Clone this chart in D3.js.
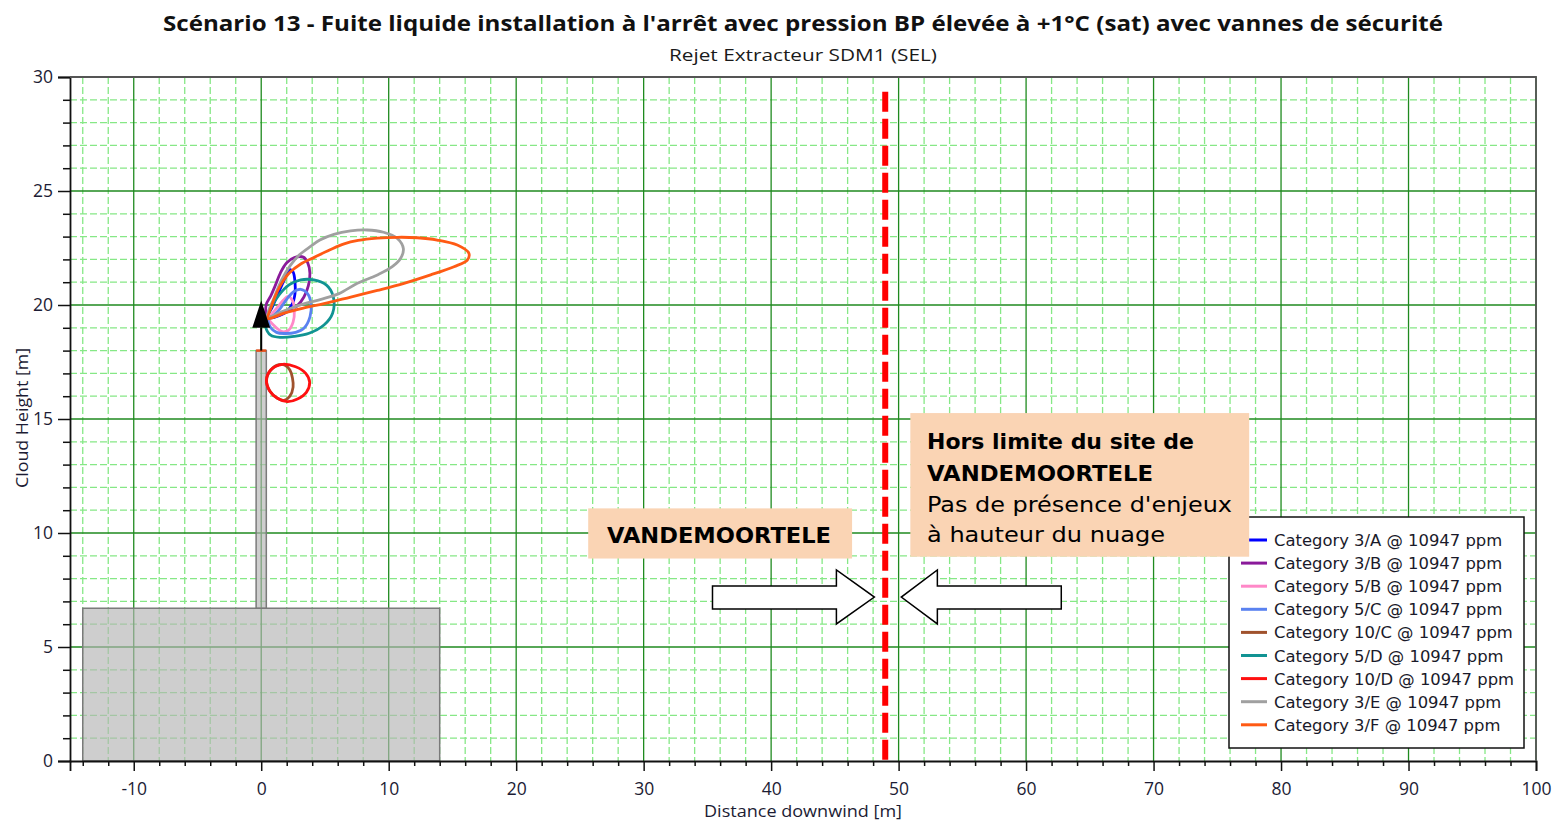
<!DOCTYPE html>
<html><head><meta charset="utf-8">
<script src="https://cdn.jsdelivr.net/npm/d3@7"></script>
<style>body{margin:0;background:#fff}svg{display:block}</style>
</head><body>
<svg id="chart" width="1553" height="823"></svg>
<script>
// ---------- DATA ----------
const seriesNames = [
  "Category 3/A @ 10947 ppm", "Category 3/B @ 10947 ppm", "Category 5/B @ 10947 ppm",
  "Category 5/C @ 10947 ppm", "Category 10/C @ 10947 ppm", "Category 5/D @ 10947 ppm",
  "Category 10/D @ 10947 ppm", "Category 3/E @ 10947 ppm", "Category 3/F @ 10947 ppm"
];
const seriesColors = ["#0000ff", "#8a1a9a", "#ff88c8", "#5a82f0", "#a0522d", "#119393", "#ff1010", "#a0a0a0", "#ff5a14"];

// contour outlines [distance downwind (m), cloud height (m)]
const cat3A = [[0.5,19.45],[0.9,19.95],[1.4,20.6],[1.85,21.15],[2.25,21.55],[2.5,21.45],[2.65,21.0],[2.65,20.5],[2.4,20.0],[1.7,19.6]];
const cat3B = [[0.5,19.45],[0.38,20.0],[0.75,20.4],[1.1,20.85],[1.5,21.4],[2.0,21.85],[2.6,22.08],[3.3,22.1],[3.65,21.85],[3.82,21.4],[3.7,20.85],[3.35,20.35],[2.8,19.95],[1.6,19.6]];
const cat5B = [[0.55,19.45],[1.0,19.1],[1.65,18.83],[2.15,18.9],[2.5,19.25],[2.6,19.75],[2.45,20.2],[2.1,20.38],[1.75,20.22],[1.35,19.95],[0.9,19.65]];
const cat5C = [[0.55,19.4],[0.75,19.0],[1.2,18.8],[1.8,18.75],[2.7,18.8],[3.35,18.98],[3.83,19.49],[3.9,20.07],[3.62,20.51],[3.1,20.69],[2.57,20.59],[2.05,20.29],[1.5,19.85],[0.9,19.5]];
const cat10C = [[0.42,16.7],[0.75,17.15],[1.4,17.38],[1.9,17.35],[2.25,17.15],[2.45,16.8],[2.5,16.4],[2.25,16.0],[1.8,15.82],[1.27,15.91],[0.67,16.23]];
const cat5D = [[0.45,19.45],[0.35,19.05],[0.74,18.68],[1.53,18.58],[2.57,18.62],[3.75,18.76],[4.92,19.12],[5.6,19.64],[5.65,20.37],[5.1,20.88],[4.14,21.1],[3.1,21.1],[2.18,20.88],[1.4,20.44],[0.74,19.85]];
const cat10D = [[0.41,16.71],[0.74,17.15],[1.66,17.4],[2.7,17.29],[3.49,17.0],[3.8,16.61],[3.54,16.17],[2.84,15.88],[2.05,15.76],[1.27,15.91],[0.67,16.23]];
const cat3E = [[0.5,19.5],[1.0,20.3],[1.6,21.1],[2.3,21.75],[3.0,22.2],[3.9,22.58],[4.6,22.85],[5.7,23.1],[7.0,23.25],[8.3,23.29],[9.6,23.19],[10.68,22.92],[11.15,22.48],[10.94,22.05],[10.28,21.68],[9.11,21.32],[7.54,20.95],[6.1,20.5],[4.7,20.25],[3.2,20.03],[1.8,19.75]];
const cat3F = [[0.5,19.4],[0.75,19.85],[1.0,20.25],[1.5,20.85],[2.2,21.4],[3.1,21.8],[4.2,22.1],[5.4,22.42],[6.5,22.68],[7.6,22.83],[9.1,22.93],[10.7,22.97],[12.25,22.95],[13.8,22.85],[15.38,22.63],[16.29,22.27],[16.17,21.97],[15.12,21.68],[13.29,21.32],[11.2,20.95],[9.11,20.64],[7.02,20.35],[4.92,20.06],[3.36,19.87],[1.79,19.64],[0.9,19.45]];
const contours = [cat3A, cat3B, cat5B, cat5C, cat10C, cat5D, cat10D, cat3E, cat3F];

const xTickValues = [-10, 0, 10, 20, 30, 40, 50, 60, 70, 80, 90, 100];
const yTickValues = [0, 5, 10, 15, 20, 25, 30];
const xDomain = [-15, 100];
const yDomain = [0, 30];

// scene geometry (m)
const buildingX = [-14, 14], buildingTop = 6.7;
const stackX = [-0.4, 0.4], stackTop = 18.0;
const releaseTip = 20.2, releaseBase = 19.0;
const boundaryX = 48.95, boundaryTop = 29.35;

const titleText = "Scénario 13 - Fuite liquide installation à l'arrêt avec pression BP élevée à +1°C (sat) avec vannes de sécurité";
const subtitleText = "Rejet Extracteur SDM1 (SEL)";
const xLabel = "Distance downwind [m]";
const yLabel = "Cloud Height [m]";
const siteLabel = "VANDEMOORTELE";
const outsideLines = ["Hors limite du site de", "VANDEMOORTELE", "Pas de présence d'enjeux", "à hauteur du nuage"];

// ---------- DRAW ----------
const svg = d3.select("#chart");
const L = 70, R = 1536, T = 77, B = 761;
const x = d3.scaleLinear().domain(xDomain).range([L, R]);
const y = d3.scaleLinear().domain(yDomain).range([B, T]);
const font = "'Open Sans', 'DejaVu Sans', sans-serif";

// grid
const xMinor = d3.range(-14, 100, 2).filter(v => v % 10 !== 0);
const yMinor = d3.range(1, 30, 1).filter(v => v % 5 !== 0);
const g = svg.append("g");
g.selectAll(".xm").data(xMinor).join("line")
  .attr("x1", d => x(d)).attr("x2", d => x(d)).attr("y1", T).attr("y2", B)
  .attr("stroke", "#86e886").attr("stroke-width", 1.3).attr("stroke-dasharray", "7,3");
g.selectAll(".ym").data(yMinor).join("line")
  .attr("y1", d => y(d)).attr("y2", d => y(d)).attr("x1", L).attr("x2", R)
  .attr("stroke", "#86e886").attr("stroke-width", 1.3).attr("stroke-dasharray", "7,3");
g.selectAll(".xM").data(xTickValues).join("line")
  .attr("x1", d => x(d)).attr("x2", d => x(d)).attr("y1", T).attr("y2", B)
  .attr("stroke", "#1f8a1f").attr("stroke-width", 1.3);
g.selectAll(".yM").data(yTickValues.filter(v => v > 0 && v < 30)).join("line")
  .attr("y1", d => y(d)).attr("y2", d => y(d)).attr("x1", L).attr("x2", R)
  .attr("stroke", "#1f8a1f").attr("stroke-width", 1.3);

// building + stack
svg.append("rect")
  .attr("x", x(buildingX[0])).attr("y", y(buildingTop))
  .attr("width", x(buildingX[1]) - x(buildingX[0])).attr("height", y(0) - y(buildingTop))
  .attr("fill", "rgb(180,180,180)").attr("fill-opacity", 0.65)
  .attr("stroke", "#7a7a7a").attr("stroke-width", 1.5);
svg.append("rect")
  .attr("x", x(stackX[0])).attr("y", y(stackTop))
  .attr("width", x(stackX[1]) - x(stackX[0])).attr("height", y(buildingTop) - y(stackTop))
  .attr("fill", "rgb(180,180,180)").attr("fill-opacity", 0.65)
  .attr("stroke", "#7a7a7a").attr("stroke-width", 1.5);
svg.append("line")
  .attr("x1", x(stackX[0])).attr("x2", x(stackX[1])).attr("y1", y(stackTop)).attr("y2", y(stackTop))
  .attr("stroke", "#e8501a").attr("stroke-width", 2.5);

// release arrow
svg.append("line")
  .attr("x1", x(0)).attr("x2", x(0)).attr("y1", y(stackTop)).attr("y2", y(releaseBase))
  .attr("stroke", "#000").attr("stroke-width", 2);

// contours
const line = d3.line().x(d => x(d[0])).y(d => y(d[1])).curve(d3.curveCatmullRomClosed.alpha(0.5));
svg.append("g").selectAll("path").data(contours).join("path")
  .attr("d", d => line(d))
  .attr("fill", "none")
  .attr("stroke", (d, i) => seriesColors[i])
  .attr("stroke-width", 2.8);

svg.append("path")
  .attr("d", `M${x(0)},${y(releaseTip)} L${x(-0.7)},${y(releaseBase)} L${x(0.7)},${y(releaseBase)} Z`)
  .attr("fill", "#000");

// boundary line
svg.append("line")
  .attr("x1", x(boundaryX)).attr("x2", x(boundaryX)).attr("y1", y(boundaryTop)).attr("y2", y(0))
  .attr("stroke", "#ff0000").attr("stroke-width", 6).attr("stroke-dasharray", "20,7");

// axes
const xAxis = svg.append("g").attr("transform", `translate(0,${B})`)
  .call(d3.axisBottom(x).tickValues(xTickValues).tickSize(10).tickPadding(12).tickFormat(d => String(d)));
svg.append("g").attr("transform", `translate(0,${B})`)
  .call(d3.axisBottom(x).tickValues(xMinor).tickSize(5).tickFormat(""))
  .call(s => s.select(".domain").remove());
const yAxis = svg.append("g").attr("transform", `translate(${L},0)`)
  .call(d3.axisLeft(y).tickValues(yTickValues).tickSize(12).tickPadding(5).tickFormat(d => String(d)));
svg.append("g").attr("transform", `translate(${L},0)`)
  .call(d3.axisLeft(y).tickValues(yMinor).tickSize(7).tickFormat(""))
  .call(s => s.select(".domain").remove());
svg.selectAll(".tick line").attr("stroke", "#111").attr("stroke-width", 1.5);
svg.selectAll(".tick text").attr("font-family", font).attr("font-size", 17.5).attr("fill", "#1c1c34");
svg.selectAll(".domain").attr("stroke", "#111").attr("stroke-width", 1.8);
// frame top/right
svg.append("path").attr("d", `M${L},${T} H${R} V${B}`).attr("fill", "none").attr("stroke", "#555").attr("stroke-width", 1.8);

// titles
svg.append("text").attr("x", (L + R) / 2).attr("y", 31).attr("text-anchor", "middle")
  .attr("font-family", font).attr("font-weight", "bold").attr("font-size", 21).attr("fill", "#111")
  .attr("textLength", 1280).attr("lengthAdjust", "spacingAndGlyphs").text(titleText);
svg.append("text").attr("x", (L + R) / 2).attr("y", 61).attr("text-anchor", "middle")
  .attr("font-family", font).attr("font-size", 17).attr("fill", "#1a1a1a")
  .attr("textLength", 268).attr("lengthAdjust", "spacingAndGlyphs").text(subtitleText);
svg.append("text").attr("x", (L + R) / 2).attr("y", 817).attr("text-anchor", "middle")
  .attr("font-family", font).attr("font-size", 16.5).attr("fill", "#1c1c34")
  .attr("textLength", 198).attr("lengthAdjust", "spacingAndGlyphs").text(xLabel);
svg.append("text").attr("transform", `translate(28,418) rotate(-90)`).attr("text-anchor", "middle")
  .attr("font-family", font).attr("font-size", 16.5).attr("fill", "#1c1c34")
  .attr("textLength", 140).attr("lengthAdjust", "spacingAndGlyphs").text(yLabel);

// legend
const lg = svg.append("g");
lg.append("rect").attr("x", 1229).attr("y", 517).attr("width", 295).attr("height", 231)
  .attr("fill", "#fff").attr("stroke", "#111").attr("stroke-width", 1.5);
seriesNames.forEach((n, i) => {
  const cy = 540 + i * 23.1;
  lg.append("line").attr("x1", 1241).attr("x2", 1267).attr("y1", cy).attr("y2", cy)
    .attr("stroke", seriesColors[i]).attr("stroke-width", 3);
  lg.append("text").attr("x", 1274).attr("y", cy + 6)
    .attr("font-family", "'DejaVu Sans', sans-serif").attr("font-size", 16.4).attr("fill", "#1a1a2a").text(n);
});

// annotations
const peach = "#fad4b4";
const annFont = "'DejaVu Sans', sans-serif";
svg.append("rect").attr("x", x(25.65)).attr("y", y(11.08)).attr("width", x(46.35) - x(25.65)).attr("height", y(8.88) - y(11.08)).attr("fill", peach);
svg.append("text").attr("x", 607).attr("y", 543).attr("font-family", annFont).attr("font-weight", "bold")
  .attr("font-size", 22).attr("fill", "#000").attr("textLength", 224).attr("lengthAdjust", "spacingAndGlyphs").text(siteLabel);
svg.append("rect").attr("x", x(50.92)).attr("y", y(15.26)).attr("width", x(77.5) - x(50.92)).attr("height", y(8.96) - y(15.26)).attr("fill", peach);
const lineLens = [267, 226, 305, 238];
const lineYs = [449, 481, 512, 542];
outsideLines.forEach((t, i) => {
  svg.append("text").attr("x", 927).attr("y", lineYs[i]).attr("font-family", annFont)
    .attr("font-weight", i < 2 ? "bold" : "normal").attr("font-size", 22).attr("fill", "#000")
    .attr("textLength", lineLens[i]).attr("lengthAdjust", "spacingAndGlyphs").text(t);
});

// arrows
function arrow(tail, headBase, tip) {
  const s0 = 7.68, s1 = 6.67, h0 = 8.38, h1 = 6.01, tm = 7.19;
  return `M${x(tail)},${y(s0)} L${x(headBase)},${y(s0)} L${x(headBase)},${y(h0)} L${x(tip)},${y(tm)} L${x(headBase)},${y(h1)} L${x(headBase)},${y(s1)} L${x(tail)},${y(s1)} Z`;
}
svg.append("path").attr("d", arrow(35.4, 45.12, 48.1)).attr("fill", "#fff").attr("stroke", "#000").attr("stroke-width", 1.5);
svg.append("path").attr("d", arrow(62.76, 53.04, 50.21)).attr("fill", "#fff").attr("stroke", "#000").attr("stroke-width", 1.5);
</script>
</body></html>
